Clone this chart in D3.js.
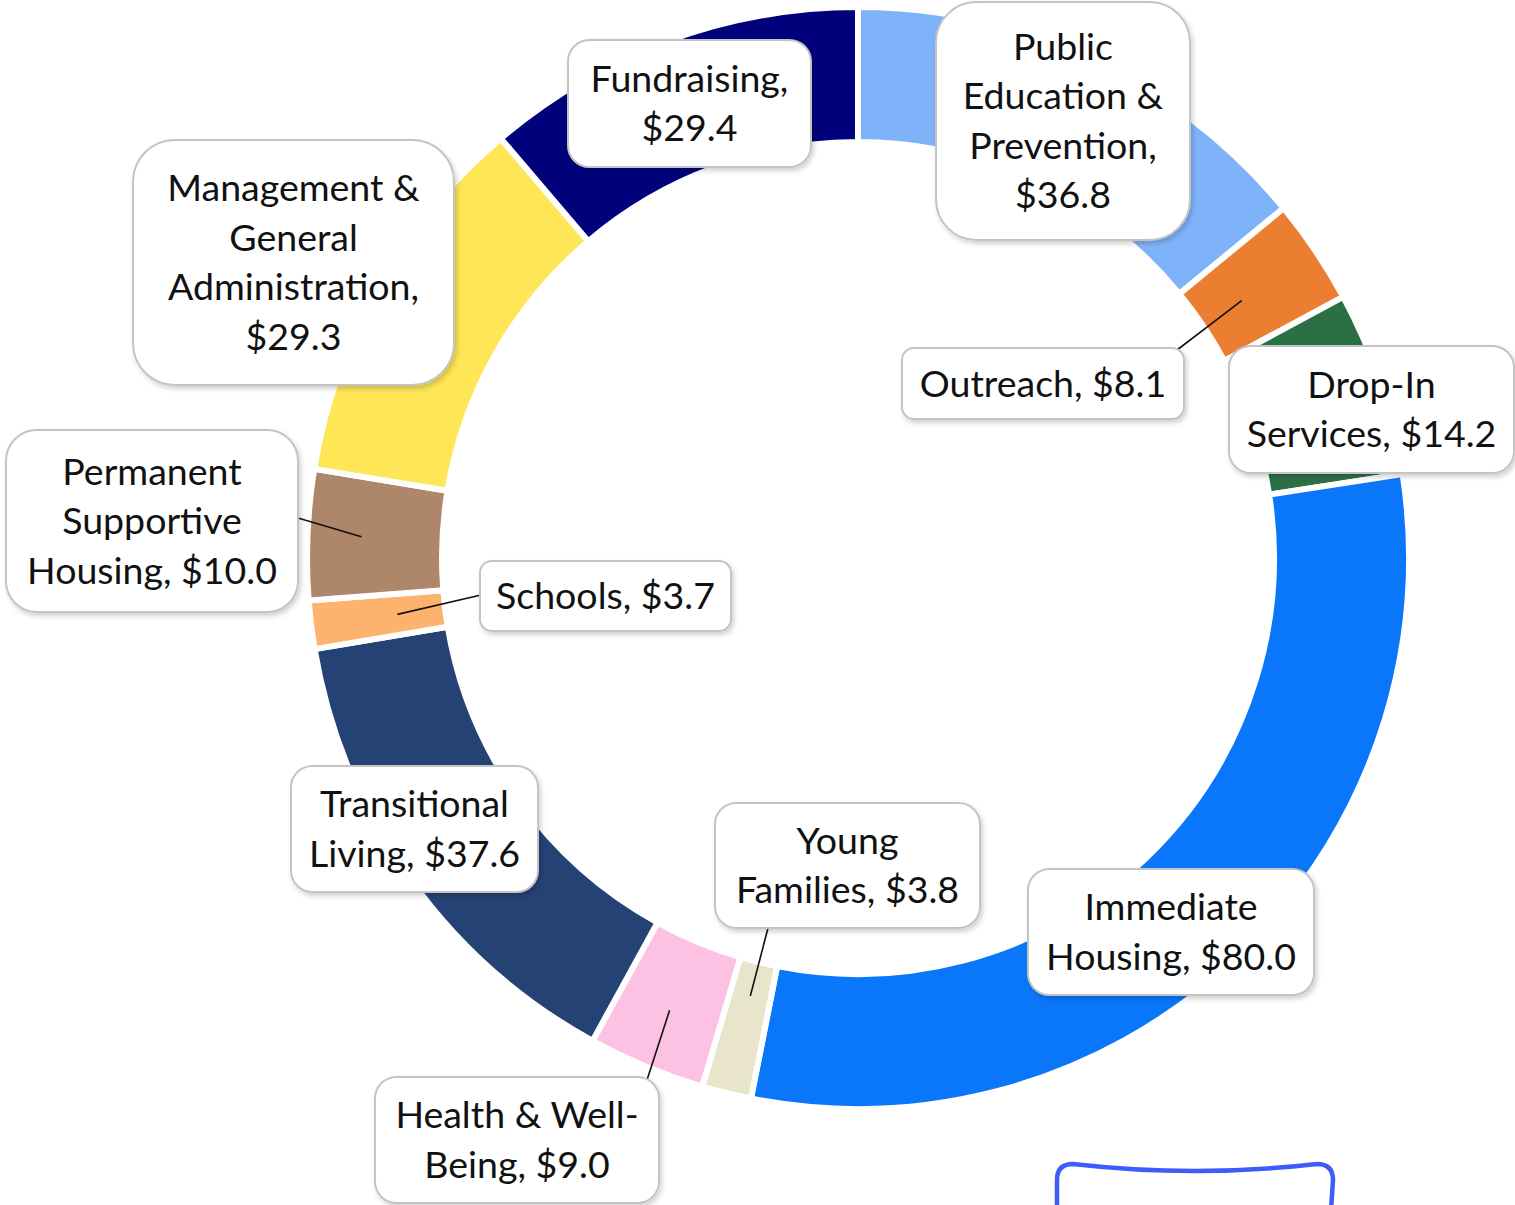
<!DOCTYPE html>
<html>
<head>
<meta charset="utf-8">
<script src="https://cdn.jsdelivr.net/npm/d3@7"></script>
<style>
  html, body { margin: 0; padding: 0; background: #fff; }
  svg { display: block; }
</style>
</head>
<body>
<svg id="chart" width="1515" height="1205"></svg>
<script>
// ---- data ----
const categories = [
  "Public Education & Prevention", "Outreach", "Drop-In Services", "Immediate Housing",
  "Young Families", "Health & Well-Being", "Transitional Living", "Schools",
  "Permanent Supportive Housing", "Management & General Administration", "Fundraising"
];
const values = [36.8, 8.1, 14.2, 80.0, 3.8, 9.0, 37.6, 3.7, 10.0, 29.3, 29.4];
const labelLines = [
  ["Public", "Education &", "Prevention,", "$36.8"],
  ["Outreach, $8.1"],
  ["Drop-In", "Services, $14.2"],
  ["Immediate", "Housing, $80.0"],
  ["Young", "Families, $3.8"],
  ["Health & Well-", "Being, $9.0"],
  ["Transitional", "Living, $37.6"],
  ["Schools, $3.7"],
  ["Permanent", "Supportive", "Housing, $10.0"],
  ["Management &", "General", "Administration,", "$29.3"],
  ["Fundraising,", "$29.4"]
];
const colors = ["#7fb3f9", "#ec7e32", "#2b7044", "#0a77fb", "#e8e5cb", "#fdc1e3",
                "#254275", "#fdb36d", "#ae866a", "#fee656", "#01017c"];

// ---- layout (label boxes; leader: [radius of start inside ring, endX, endY] or null) ----
const boxes = [
  {x: 936, y: 2,    w: 254, h: 238, leader: null},
  {x: 902, y: 348,  w: 282, h: 71,  leader: [462, 1177, 350]},
  {x: 1229, y: 346, w: 285, h: 127, leader: null},
  {x: 1028, y: 869, w: 286, h: 126, leader: null},
  {x: 715, y: 803,  w: 265, h: 125, leader: [451, 768, 928]},
  {x: 375, y: 1077, w: 284, h: 126, leader: [490, 647, 1080]},
  {x: 291, y: 766,  w: 247, h: 126, leader: null},
  {x: 480, y: 561,  w: 251, h: 70,  leader: [464, 481, 595]},
  {x: 6, y: 430,    w: 292, h: 182, leader: [497, 298, 518]},
  {x: 133, y: 140,  w: 321, h: 245, leader: null},
  {x: 568, y: 40,   w: 243, h: 127, leader: null}
];

const cx = 858, cy = 558, outerR = 551, innerR = 416;
const svg = d3.select("#chart");

const defs = svg.append("defs");
const f = defs.append("filter").attr("id", "shadow")
  .attr("x", "-10%").attr("y", "-10%").attr("width", "125%").attr("height", "125%");
f.append("feDropShadow").attr("dx", 2).attr("dy", 3).attr("stdDeviation", 2.5)
  .attr("flood-color", "#000").attr("flood-opacity", 0.18);

const data = categories.map((c, i) => ({cat: c, value: values[i], lines: labelLines[i], color: colors[i], box: boxes[i]}));

const pie = d3.pie().value(d => d.value).sort(null);
const arcs = pie(data);
const arc = d3.arc().innerRadius(innerR).outerRadius(outerR);

const g = svg.append("g").attr("transform", `translate(${cx},${cy})`);
g.selectAll("path.slice").data(arcs).join("path")
  .attr("class", "slice")
  .attr("d", arc)
  .attr("fill", d => d.data.color)
  .attr("stroke", "#fff")
  .attr("stroke-width", 6)
  .attr("stroke-linejoin", "miter");

// leader lines
arcs.forEach(a => {
  const L = a.data.box.leader;
  if (!L) return;
  const mid = (a.startAngle + a.endAngle) / 2;
  const sx = cx + L[0] * Math.sin(mid), sy = cy - L[0] * Math.cos(mid);
  svg.append("line")
    .attr("x1", sx).attr("y1", sy).attr("x2", L[1]).attr("y2", L[2])
    .attr("stroke", "#111").attr("stroke-width", 1.6);
});

// label boxes
const lineH = 49.5;
const lbl = svg.selectAll("g.lbl").data(data).join("g").attr("class", "lbl");
lbl.append("rect")
  .attr("x", d => d.box.x).attr("y", d => d.box.y)
  .attr("width", d => d.box.w).attr("height", d => d.box.h)
  .attr("rx", d => Math.min(d.box.w, d.box.h) * 0.17)
  .attr("fill", "#fff")
  .attr("stroke", "#c4c4c4").attr("stroke-width", 2)
  .attr("filter", "url(#shadow)");
lbl.each(function(d) {
  const n = d.lines.length;
  const midY = d.box.y + d.box.h / 2;
  const t = d3.select(this).append("text")
    .attr("text-anchor", "middle")
    .attr("font-family", "Lato, 'Open Sans', sans-serif")
    .attr("font-size", 37.5)
    .attr("fill", "#111");
  d.lines.forEach((ln, i) => {
    t.append("tspan")
      .attr("x", d.box.x + d.box.w / 2)
      .attr("y", midY + (i - (n - 1) / 2) * lineH)
      .attr("dy", "0.35em")
      .text(ln);
  });
});

// blue rounded outline partly visible at bottom right
const bp = d3.path();
bp.moveTo(1057, 1210);
bp.lineTo(1057, 1180);
bp.quadraticCurveTo(1057, 1164, 1073, 1164);
bp.quadraticCurveTo(1195, 1178, 1317, 1164);
bp.quadraticCurveTo(1333, 1164, 1333, 1180);
bp.lineTo(1331, 1210);
svg.append("path").attr("d", bp.toString())
  .attr("fill", "none").attr("stroke", "#3e5cf9").attr("stroke-width", 4.5);
</script>
</body>
</html>
